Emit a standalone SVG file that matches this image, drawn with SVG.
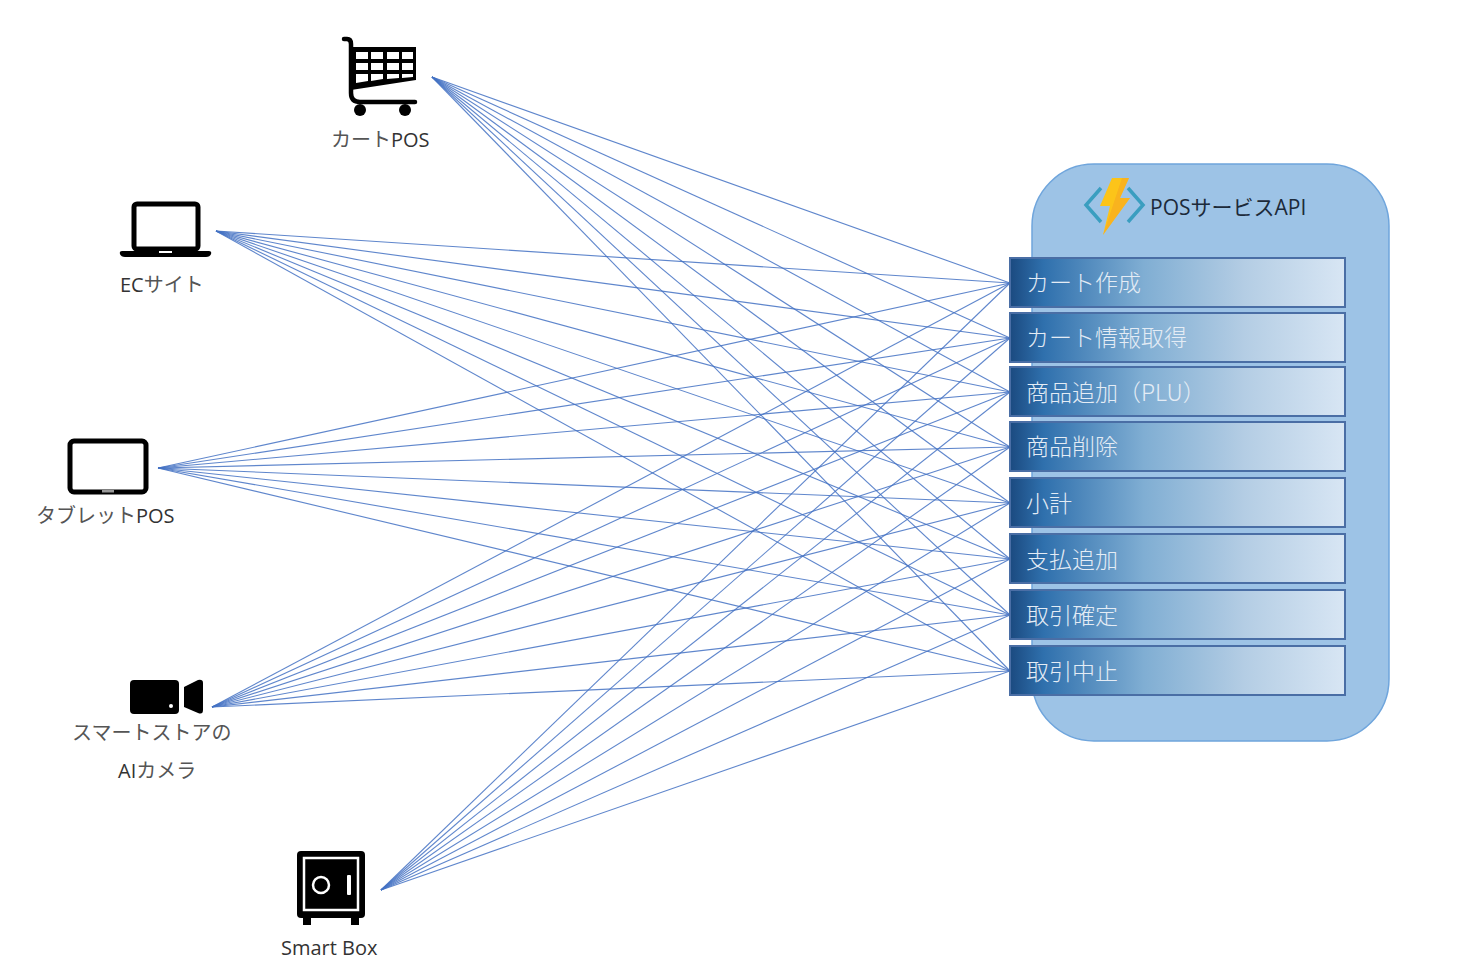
<svg xmlns="http://www.w3.org/2000/svg" width="1464" height="978" viewBox="0 0 1464 978">
<style>
.lbl{font-family:"Open Sans","Noto Sans CJK JP",sans-serif;font-size:20px;fill:#555;font-weight:400}
.lat{fill:#333}
.api{font-family:"Noto Sans CJK JP",sans-serif;font-size:23px;fill:#e4ecf5;font-weight:300}
.box{fill:url(#bg);stroke:#4a6ea5;stroke-width:2}
#connectors line{stroke:#4472c4;stroke-width:1.1;opacity:.85}
</style>
<defs>
<linearGradient id="bg" x1="0" x2="1" y1="0" y2="0">
<stop offset="0" stop-color="#1b4a80"/><stop offset=".1" stop-color="#2f70ad"/><stop offset=".4" stop-color="#80aed3"/><stop offset=".7" stop-color="#b4cde4"/><stop offset="1" stop-color="#d8e6f4"/>
</linearGradient>
</defs>
<rect width="1464" height="978" fill="#fff"/>
<g id="service-panel">
<rect x="1032" y="164" width="357" height="577" rx="62" fill="#9dc3e6" stroke="#6fa5dc" stroke-width="1.5"/>
<g id="function-icon">
<path d="M1101 188L1086 205L1101 222M1128 188L1143 205L1128 222" fill="none" stroke="#3a9ec0" stroke-width="3.5"/>
<path d="M1112 178H1129L1120 198H1130L1103 235L1110 206H1100Z" fill="#fcc419"/>
<path d="M1122 178H1129L1120 198H1130L1103 235Z" fill="#f5a623" opacity=".55"/>
</g>
<text x="1150" y="215" font-family="'Open Sans','Noto Sans CJK JP',sans-serif" font-size="21" fill="#1c2a3a">POSサービスAPI</text>
</g>
<g id="connectors">
<line x1="432" y1="77" x2="1010" y2="283"/><line x1="432" y1="77" x2="1010" y2="338"/><line x1="432" y1="77" x2="1010" y2="392"/><line x1="432" y1="77" x2="1010" y2="447"/><line x1="432" y1="77" x2="1010" y2="503"/><line x1="432" y1="77" x2="1010" y2="559"/><line x1="432" y1="77" x2="1010" y2="615"/><line x1="432" y1="77" x2="1010" y2="671"/>
<line x1="216" y1="231" x2="1010" y2="283"/><line x1="216" y1="231" x2="1010" y2="338"/><line x1="216" y1="231" x2="1010" y2="392"/><line x1="216" y1="231" x2="1010" y2="447"/><line x1="216" y1="231" x2="1010" y2="503"/><line x1="216" y1="231" x2="1010" y2="559"/><line x1="216" y1="231" x2="1010" y2="615"/><line x1="216" y1="231" x2="1010" y2="671"/>
<line x1="158" y1="468" x2="1010" y2="283"/><line x1="158" y1="468" x2="1010" y2="338"/><line x1="158" y1="468" x2="1010" y2="392"/><line x1="158" y1="468" x2="1010" y2="447"/><line x1="158" y1="468" x2="1010" y2="503"/><line x1="158" y1="468" x2="1010" y2="559"/><line x1="158" y1="468" x2="1010" y2="615"/><line x1="158" y1="468" x2="1010" y2="671"/>
<line x1="212" y1="707" x2="1010" y2="283"/><line x1="212" y1="707" x2="1010" y2="338"/><line x1="212" y1="707" x2="1010" y2="392"/><line x1="212" y1="707" x2="1010" y2="447"/><line x1="212" y1="707" x2="1010" y2="503"/><line x1="212" y1="707" x2="1010" y2="559"/><line x1="212" y1="707" x2="1010" y2="615"/><line x1="212" y1="707" x2="1010" y2="671"/>
<line x1="381" y1="890" x2="1010" y2="283"/><line x1="381" y1="890" x2="1010" y2="338"/><line x1="381" y1="890" x2="1010" y2="392"/><line x1="381" y1="890" x2="1010" y2="447"/><line x1="381" y1="890" x2="1010" y2="503"/><line x1="381" y1="890" x2="1010" y2="559"/><line x1="381" y1="890" x2="1010" y2="615"/><line x1="381" y1="890" x2="1010" y2="671"/>
</g>
<g id="op-create"><rect class="box" x="1010" y="258" width="335" height="49"/><text class="api" x="1026" y="291">カート作成</text></g>
<g id="op-info"><rect class="box" x="1010" y="313" width="335" height="49"/><text class="api" x="1026" y="346">カート情報取得</text></g>
<g id="op-add"><rect class="box" x="1010" y="367" width="335" height="49"/><text class="api" x="1026" y="401">商品追加（PLU）</text></g>
<g id="op-del"><rect class="box" x="1010" y="422" width="335" height="49"/><text class="api" x="1026" y="455">商品削除</text></g>
<g id="op-sub"><rect class="box" x="1010" y="478" width="335" height="49"/><text class="api" x="1026" y="512">小計</text></g>
<g id="op-pay"><rect class="box" x="1010" y="534" width="335" height="49"/><text class="api" x="1026" y="568">支払追加</text></g>
<g id="op-commit"><rect class="box" x="1010" y="590" width="335" height="49"/><text class="api" x="1026" y="624">取引確定</text></g>
<g id="op-abort"><rect class="box" x="1010" y="646" width="335" height="49"/><text class="api" x="1026" y="680">取引中止</text></g>
<g id="cart">
<path d="M344 39H347Q351 39 351 44V93Q351 102 360 102H415" fill="none" stroke="#000" stroke-width="4.5" stroke-linecap="round"/>
<path d="M351 47H416V80L351 90Z" fill="#000"/>
<g fill="#fff"><rect x="356" y="52" width="12" height="7"/><rect x="371" y="52" width="12" height="7"/><rect x="387" y="52" width="12" height="7"/><rect x="402" y="52" width="11" height="7"/>
<rect x="356" y="63" width="12" height="7"/><rect x="371" y="63" width="12" height="7"/><rect x="387" y="63" width="12" height="7"/><rect x="402" y="63" width="11" height="7"/>
<path d="M356 74H368V81L356 83ZM371 74H383V79L371 81ZM387 74H399V78L387 79ZM402 74H413V77L402 78Z"/></g>
<circle cx="360" cy="110" r="6" fill="#000"/><circle cx="405" cy="110" r="6" fill="#000"/>
<text class="lbl" x="331" y="147">カート<tspan class="lat">POS</tspan></text>
</g>
<g id="ec-site">
<rect x="134" y="204" width="64" height="45" rx="3" fill="#fff" stroke="#000" stroke-width="5"/>
<path d="M122 251H209Q212 251 211 254Q210 257 206 257H125Q121 257 120 254Q119 251 122 251Z" fill="#000"/>
<rect x="159" y="251" width="13" height="2" fill="#fff"/>
<text class="lbl" x="120" y="292"><tspan class="lat">EC</tspan>サイト</text>
</g>
<g id="tablet">
<rect x="70" y="441" width="76" height="51" rx="4" fill="#fff" stroke="#000" stroke-width="5"/>
<rect x="102" y="490" width="12" height="2.5" fill="#999"/>
<text class="lbl" x="36" y="523">タブレット<tspan class="lat">POS</tspan></text>
</g>
<g id="camera">
<rect x="130" y="680" width="49" height="34" rx="4" fill="#000"/>
<circle cx="171" cy="706" r="2" fill="#fff"/>
<path d="M184 687L198 680Q203 679 203 683V710Q203 715 198 713L184 707Z" fill="#000"/>
<text class="lbl" x="72" y="740">スマートストアの</text>
<text class="lbl" x="118" y="778"><tspan class="lat">AI</tspan>カメラ</text>
</g>
<g id="smart-box">
<rect x="297" y="851" width="68" height="67" rx="4" fill="#000"/>
<rect x="304" y="858" width="54" height="52" fill="none" stroke="#fff" stroke-width="2.5"/>
<circle cx="321" cy="885" r="8" fill="none" stroke="#fff" stroke-width="2.5"/>
<rect x="347" y="875" width="4" height="20" rx="1" fill="#fff"/>
<rect x="303" y="918" width="8" height="7" fill="#000"/><rect x="351" y="918" width="8" height="7" fill="#000"/>
<text x="281" y="955" font-family="'Open Sans',sans-serif" font-size="20" fill="#333">Smart Box</text>
</g>
</svg>
